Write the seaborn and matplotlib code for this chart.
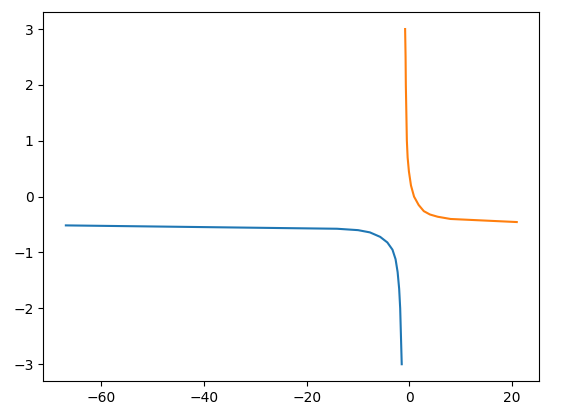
import pandas as pd
import matplotlib
matplotlib.use("Agg")
import matplotlib.pyplot as plt
import seaborn as sns

# --- Data ---
blue_x = [-66.9, -14.1, -10.0, -7.7, -5.7, -4.3, -3.3, -2.7, -2.3, -2.0, -1.8, -1.65, -1.5]
blue_y = [-0.515, -0.575, -0.60, -0.64, -0.72, -0.82, -0.95, -1.12, -1.35, -1.65, -2.0, -2.5, -3.0]

orange_x = [-0.84, -0.75, -0.7, -0.6, -0.5, -0.35, -0.1, 0.3, 0.9, 1.8, 2.8, 4.0, 5.5, 8.0, 20.9]
orange_y = [3.0, 2.5, 2.0, 1.5, 1.0, 0.7, 0.45, 0.2, 0.0, -0.15, -0.26, -0.32, -0.36, -0.40, -0.455]

blue = pd.DataFrame({'x': blue_x, 'y': blue_y})
orange = pd.DataFrame({'x': orange_x, 'y': orange_y})

# --- Plot ---
fig, ax = plt.subplots(figsize=(5.73, 4.09), dpi=100)
fig.subplots_adjust(left=0.0756, right=0.9412, top=0.970, bottom=0.0685)

sns.lineplot(data=blue, x='x', y='y', sort=False, estimator=None, color='C0', linewidth=1.5, ax=ax)
sns.lineplot(data=orange, x='x', y='y', sort=False, estimator=None, color='C1', linewidth=1.5, ax=ax)

ax.set_xlabel('')
ax.set_ylabel('')

fig.savefig('out.png', dpi=100)
